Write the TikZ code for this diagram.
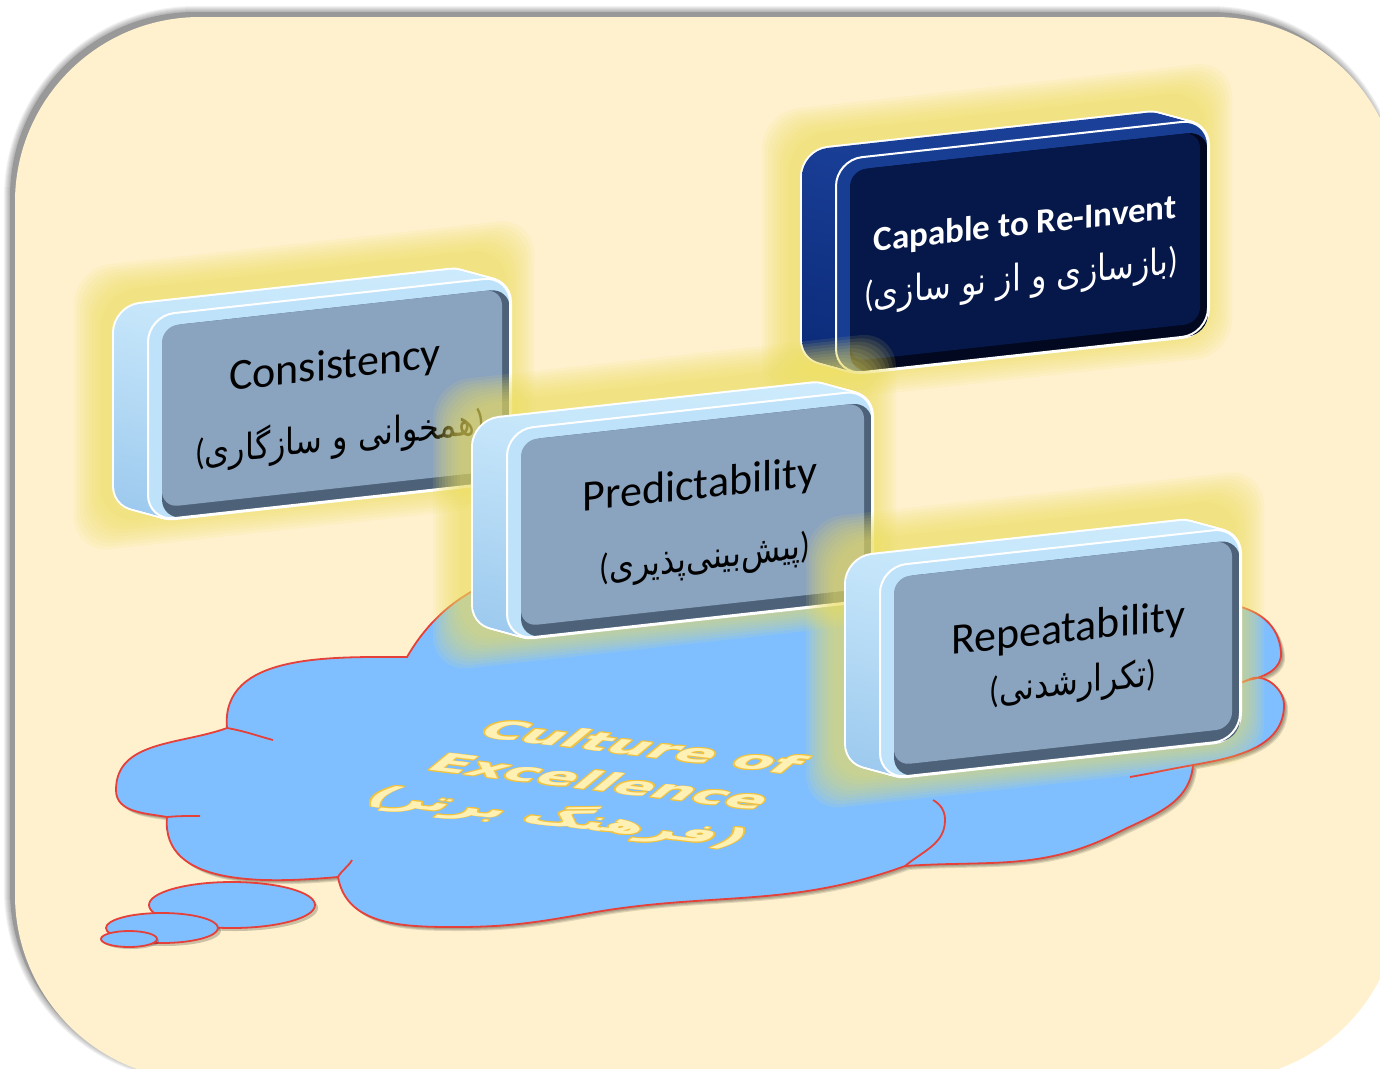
\documentclass[tikz,border=0pt]{standalone}
\usepackage{fontspec}
\setmainfont{Carlito}
\newfontfamily\fa[Script=Arabic]{DejaVu Sans}
\newfontfamily\widefont{DejaVu Sans}
\TeXXeTstate=1

\definecolor{cream}{HTML}{FFF1CD}
\definecolor{cloudblue}{HTML}{80BFFF}
\definecolor{cloudred}{HTML}{E5403A}
\definecolor{glowyellow}{HTML}{EEE060}
\definecolor{lbTop}{HTML}{CDEBFC}
\definecolor{lbBot}{HTML}{9CC9EE}
\definecolor{lbEdge}{HTML}{BDE2F9}
\definecolor{lbDark}{HTML}{4D6279}
\definecolor{lbFace}{HTML}{8AA3BF}
\definecolor{dbTop}{HTML}{1B419A}
\definecolor{dbBot}{HTML}{0B2A78}
\definecolor{dbEdge}{HTML}{183E94}
\definecolor{dbDark}{HTML}{01081F}
\definecolor{dbFace}{HTML}{061849}
\definecolor{goldline}{HTML}{F2C33E}
\definecolor{goldfill}{HTML}{FFF0B4}

% #1,#2: front-face corner, #3,#4: width/height, #5: colour set, #6: labels
\newcommand{\drawblock}[6]{%
\begin{scope}[shift={(#1,#2)}, yslant=0.11]
  \foreach \g in {1,...,10}{
    \fill[glowyellow, opacity=0.1, rounded corners=36]
      ({-44-\g*3},{-26-\g*3}) rectangle ({#3-6+\g*3},{#4-6+\g*3});
  }
  \foreach \t in {0,...,16}{
    \draw[white, line width=4, rounded corners=26]
      ({-34+\t*34/16},{-13+\t*13/16}) rectangle ++(#3,#4);
  }
  \foreach \t in {0,...,16}{
    \shade[top color=#5Top, bottom color=#5Bot, rounded corners=26]
      ({-34+\t*34/16},{-13+\t*13/16}) rectangle ++(#3,#4);
  }
  \fill[#5Edge, rounded corners=26] (0,0) rectangle (#3,#4);
  \fill[#5Dark, rounded corners=20] (14,12) rectangle (#3,#4);
  \fill[#5Face, rounded corners=16] (14,12) rectangle ({#3-8},{#4-12});
  \draw[white, line width=2, rounded corners=26] (0,0) rectangle (#3,#4);
  #6
\end{scope}}

\tikzset{
  cloudline/.style={draw=cloudred, line width=1.8},
  bubble/.style={fill=cloudblue, draw=cloudred, line width=1.8},
  entitle/.style={transform shape, font=\fontsize{44}{50}\selectfont},
  fatitle/.style={transform shape, yscale=1.15, font=\fontsize{32}{36}\selectfont},
  caption/.style={transform shape, align=center,
    font=\widefont\bfseries\fontsize{20}{30}\selectfont},
}
% Persian subtitle: the words run right to left inside ordinary brackets
\newcommand{\fasub}[1]{({\fa\beginR #1\endR})}

\begin{document}
\begin{tikzpicture}[x=1pt,y=-1pt]
\useasboundingbox (0,0) rectangle (1380,1068);
\fill[white] (0,0) rectangle (1380,1068);

% backdrop panel with its soft shadow
\foreach \i in {1,...,6}{
  \draw[black, opacity=0.05, line width=\i*2, rounded corners=185] (10,12) rectangle (1395,1075);
}
\fill[black!40, rounded corners=185] (10,12) rectangle (1395,1075);
\fill[cream, rounded corners=185] (15,17) rectangle (1400,1080);

% thought cloud
\def\cloudpath{(227,728) to[out=95,in=180] (407,657)
  to[out=60,in=170] (700,575)
  to[out=-10,in=170] (900,600)
  to[out=40,in=175] (1150,596)
  to[out=-5,in=95] (1281,652)
  to[out=-85,in=10] (1248,680)
  to[out=30,in=90] (1284,705)
  to[out=-90,in=10] (1193,765)
  to[out=-95,in=27] (1117,833)
  to[out=-153,in=4] (905,866)
  to[out=-160,in=10] (590,913)
  to[out=190,in=0] (457,927)
  to[out=180,in=-80] (338,877)
  to[out=185,in=-95] (167,817)
  to[out=170,in=-90] (116,790)
  to[out=90,in=200] (227,728) -- cycle}
\foreach \i in {1,...,3}{
  \fill[black, opacity=0.12, shift={(\i+1,\i+1)}] \cloudpath;
}
\path[fill=cloudblue, cloudline] \cloudpath;
\draw[cloudline] (227,728) to[out=-10,in=165] (273,740);
\draw[cloudline] (167,817) to[out=5,in=180] (200,816);
\draw[cloudline] (338,877) to[out=60,in=-120] (352,860);
\draw[cloudline] (905,866) to[out=40,in=-90] (945,820) to[out=90,in=-30] (933,800);
\draw[cloudline] (1193,765) to[out=-170,in=10] (1130,777);
\draw[cloudline] (1248,680) -- (1238,684);

% trailing bubbles
\fill[black, opacity=0.2] (235,908) ellipse [x radius=83pt, y radius=23pt];
\draw[bubble] (232,905) ellipse [x radius=83pt, y radius=23pt];
\fill[black, opacity=0.2] (165,931) ellipse [x radius=56pt, y radius=15pt];
\draw[bubble] (162,928) ellipse [x radius=56pt, y radius=15pt];
\fill[black, opacity=0.2] (131,941) ellipse [x radius=28pt, y radius=8pt];
\draw[bubble] (129,939) ellipse [x radius=28pt, y radius=8pt];

% cloud caption, laid flat in perspective: gold rim, then cream letters
\begin{scope}[shift={(598,784)}, cm={2.8,-0.34,1.4,1.16,(0,0)}]
  \foreach \dx/\dy in {0.6/0,-0.6/0,0/0.6,0/-0.6,0.45/0.45,-0.45/0.45,0.45/-0.45,-0.45/-0.45}{
    \node[caption, text=goldline] at (\dx,\dy)
      {Culture of\\ Excellence\\ ({\fa\bfseries\beginR فرهنگ برتر\endR})};
  }
  \node[caption, text=goldfill] (culture) at (0,0)
    {Culture of\\ Excellence\\ ({\fa\bfseries\beginR فرهنگ برتر\endR})};
\end{scope}

% the four blocks
\drawblock{148}{316}{362}{205}{lb}{
  \node[entitle] (cons) at (187,72) {Consistency};
  \node[fatitle] (consfa) at (192,143) {\fasub{همخوانی و سازگاری}};
}
\drawblock{836}{160}{372}{215}{db}{
  \node[transform shape, text=white, font=\bfseries\fontsize{35}{40}\selectfont] (cap) at (189,86) {Capable to Re-Invent};
  \node[fatitle, text=white] (capfa) at (185,141) {\fasub{بازسازی و از نو سازی}};
}
\drawblock{507}{430}{365}{210}{lb}{
  \node[entitle] (pred) at (193,78) {Predictability};
  \node[fatitle] (predfa) at (198,152) {\fasub{پیش‌بینی‌پذیری}};
}
\drawblock{880}{567}{360}{212}{lb}{
  \node[entitle] (rep) at (188,84) {Repeatability};
  \node[fatitle] (repfa) at (193,139) {\fasub{تکرارشدنی}};
}
\end{tikzpicture}
\end{document}
